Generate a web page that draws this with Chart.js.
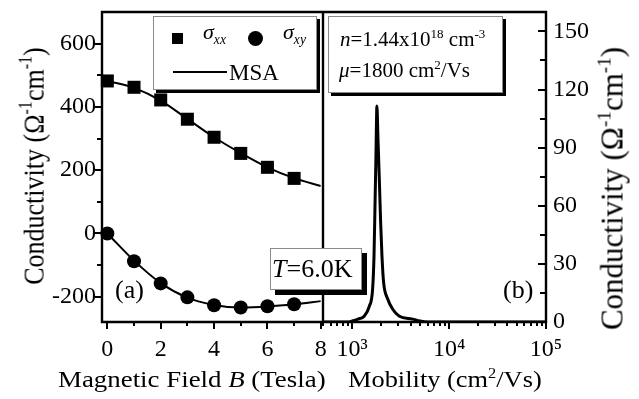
<!DOCTYPE html>
<html>
<head>
<meta charset="utf-8">
<script src="https://cdn.jsdelivr.net/npm/chart.js@4.4.0/dist/chart.umd.min.js"></script>
<style>
  html, body { margin: 0; padding: 0; background: #fff; }
  #wrap { position: relative; width: 639px; height: 399px; overflow: hidden;
          font-family: "Liberation Serif", "Times New Roman", serif; color: #000; }
  canvas { position: absolute; top: 0; }
  #cLeft { left: 0; }
  #cRight { left: 300px; }
  .txt { position: absolute; white-space: nowrap; line-height: 1; }
  .box { position: absolute; background: #fff; border: 1px solid #8a8a8a; box-sizing: border-box; }
  sup { font-size: 0.62em; line-height: 0; vertical-align: baseline; position: relative; top: -0.6em; }
  sub { font-size: 0.62em; line-height: 0; vertical-align: baseline; position: relative; top: 0.35em; }
  .mk { position: absolute; background: #000; }
</style>
</head>
<body>
<div id="wrap">
  <canvas id="cLeft" width="330" height="399" style="width:330px;height:399px"></canvas>
  <canvas id="cRight" width="339" height="399" style="width:339px;height:399px"></canvas>

  <!-- legend of panel (a) -->
  <div class="box" style="left:153px;top:16px;width:164px;height:74px;box-shadow:3px 3px 0 #000"></div>
  <div class="mk" style="left:172px;top:33px;width:11px;height:11px"></div>
  <div class="txt" style="left:203px;top:21px;font-size:22px"><i>&sigma;<sub>xx</sub></i></div>
  <div class="mk" style="left:248px;top:31px;width:15px;height:15px;border-radius:50%"></div>
  <div class="txt" style="left:283px;top:21px;font-size:22px"><i>&sigma;<sub>xy</sub></i></div>
  <div class="mk" style="left:173px;top:71px;width:54px;height:2px"></div>
  <div class="txt" style="left:229px;top:61px;font-size:23px">MSA</div>

  <!-- fit parameters of panel (b) -->
  <div class="box" style="left:328px;top:16px;width:175px;height:77px;box-shadow:3px 3px 0 #000"></div>
  <div class="txt" style="left:340px;top:29px;font-size:21px"><i>n</i>=1.44x10<sup>18</sup> cm<sup>-3</sup></div>
  <div class="txt" style="left:339px;top:60px;font-size:21px"><i>&mu;</i>=1800 cm<sup>2</sup>/Vs</div>

  <div class="box" style="left:270px;top:248px;width:92px;height:42px;box-shadow:5px 5px 0 #000"></div>
  <div class="txt" style="left:272px;top:256px;font-size:26px"><i>T</i>=6.0K</div>

  <div class="txt" style="left:115px;top:277px;font-size:26px">(a)</div>
  <div class="txt" style="left:503px;top:277px;font-size:26px">(b)</div>

  <!-- axis titles -->
  <div class="txt" style="left:58px;top:367px;font-size:24px;transform:scaleX(1.12);transform-origin:0 0">Magnetic Field <i>B</i> (Tesla)</div>
  <div class="txt" style="left:348px;top:367px;font-size:24px;transform:scaleX(1.1);transform-origin:0 0">Mobility (cm<sup>2</sup>/Vs)</div>
  <div class="txt" style="left:-116px;top:153px;width:300px;text-align:center;font-size:26px;transform:scaleX(1.15) rotate(-90deg);transform-origin:50% 50%">Conductivity (&Omega;<sup>-1</sup>cm<sup>-1</sup>)</div>
  <div class="txt" style="left:462px;top:173px;width:300px;text-align:center;font-size:31px;transform:rotate(-90deg);transform-origin:50% 50%">Conductivity (&Omega;<sup>-1</sup>cm<sup>-1</sup>)</div>
</div>

<script>
// --- panel (a): conductivity tensor vs magnetic field ---
const bField = [0, 1, 2, 3, 4, 5, 6, 7];
const sigmaXX = [482, 462, 422, 361, 304, 253, 209, 174];
const sigmaXY = [0, -88, -158, -202, -227, -234, -230, -224];
const msaField = [0, 1, 2, 3, 4, 5, 6, 7, 8];
const msaXX = [482, 460, 420, 362, 304, 254, 209, 175, 150];
const msaXY = [0, -86, -157, -203, -226, -234, -231, -224, -214];

const leftXTicks = [0, 1, 2, 3, 4, 5, 6, 7, 8];
const leftXLabels = [0, 2, 4, 6, 8];
const leftYTicks = [-200, -100, 0, 100, 200, 300, 400, 500, 600];
const leftYLabels = [-200, 0, 200, 400, 600];

// --- panel (b): mobility spectrum ---
const mobility = [500, 900, 1000, 1150, 1330, 1500, 1625, 1680, 1720, 1760, 1800,
                  1845, 1905, 1965, 2030, 2110, 2320, 2620, 3070, 4200, 5000, 6000, 100000];
const spectrum = [0, 0, 0.5, 1.5, 3, 8, 17, 34, 60, 86, 111.5,
                  95, 74, 52, 34, 20.5, 12, 6.6, 3, 1.5, 0.5, 0, 0];

const rightXTicks = [500, 600, 700, 800, 900,
                     1000, 2000, 3000, 4000, 5000, 6000, 7000, 8000, 9000,
                     10000, 20000, 30000, 40000, 50000, 60000, 70000, 80000, 90000, 100000];
const rightXLabels = { 1000: '10\u00B3', 10000: '10\u2074', 100000: '10\u2075' };
const rightYTicks = [0, 15, 30, 45, 60, 75, 90, 105, 120, 135, 150];
const rightYLabels = [0, 30, 60, 90, 120, 150];

const FONT = '"Liberation Serif", "Times New Roman", serif';

// frame + tick marks, positions come from the chart scales
const frameTicks = {
    id: 'frameTicks',
    afterDraw: function(chart, args, opts) {
        var ctx = chart.ctx, a = chart.chartArea;
        ctx.save();
        ctx.strokeStyle = '#000';
        ctx.lineWidth = 2;
        opts.axes.forEach(function(ax) {
            var s = chart.scales[ax.id];
            ax.ticks.forEach(function(v) {
                var len = ax.isMajor(v) ? ax.major : ax.minor;
                var p = Math.round(s.getPixelForValue(v));
                ctx.beginPath();
                if (s.isHorizontal()) {
                    ctx.moveTo(p, a.bottom);
                    ctx.lineTo(p, a.bottom + len);
                } else {
                    var x0 = ax.side === 'right' ? a.right : a.left;
                    ctx.moveTo(x0, p);
                    ctx.lineTo(x0 + len * ax.dir, p);
                }
                ctx.stroke();
            });
        });
        // box round the plot, edges listed in opts.edges
        ctx.lineWidth = 2.4;
        ctx.beginPath();
        opts.edges.forEach(function(e) {
            if (e === 'top') { ctx.moveTo(a.left - 1.2, a.top); ctx.lineTo(a.right + 1.2, a.top); }
            if (e === 'bottom') { ctx.moveTo(a.left - 1.2, a.bottom); ctx.lineTo(a.right + 1.2, a.bottom); }
            if (e === 'left') { ctx.moveTo(a.left, a.top); ctx.lineTo(a.left, a.bottom); }
            if (e === 'right') { ctx.moveTo(a.right, a.top); ctx.lineTo(a.right, a.bottom); }
        });
        ctx.stroke();
        ctx.restore();
    }
};

function fixedTicks(list) {
    return function(scale) { scale.ticks = list.map(function(v) { return { value: v }; }); };
}
function noPad(scale) {
    scale.paddingLeft = 0; scale.paddingRight = 0;
    scale.paddingTop = 0; scale.paddingBottom = 0;
}

function xy(xs, ys) {
    return xs.map(function(x, i) { return { x: x, y: ys[i] }; });
}

var tickFont = { family: FONT, size: 24 };
var noGrid = { display: false, drawTicks: false };

new Chart(document.getElementById('cLeft'), {
    type: 'scatter',
    data: {
        datasets: [
            { label: 'sxx', data: xy(bField, sigmaXX), pointStyle: 'rect', pointRadius: 9.2,
              backgroundColor: '#000', borderWidth: 0, showLine: false, clip: false },
            { label: 'sxy', data: xy(bField, sigmaXY), pointStyle: 'circle', pointRadius: 7,
              backgroundColor: '#000', borderWidth: 0, showLine: false, clip: false },
            { label: 'MSA xx', data: xy(msaField, msaXX), showLine: true, pointRadius: 0,
              borderColor: '#000', borderWidth: 2, cubicInterpolationMode: 'monotone' },
            { label: 'MSA xy', data: xy(msaField, msaXY), showLine: true, pointRadius: 0,
              borderColor: '#000', borderWidth: 2, cubicInterpolationMode: 'monotone' }
        ]
    },
    options: {
        responsive: false, animation: false, events: [],
        layout: { padding: { top: 12, left: 0, right: 7, bottom: 0 } },
        plugins: {
            legend: { display: false }, tooltip: { enabled: false },
            frameTicks: { edges: ['top', 'bottom', 'left'], axes: [
                { id: 'x', ticks: leftXTicks, major: 7, minor: 4,
                  isMajor: function(v) { return leftXLabels.indexOf(v) >= 0; } },
                { id: 'y', ticks: leftYTicks, major: 7, minor: 5, side: 'left', dir: -1,
                  isMajor: function(v) { return leftYLabels.indexOf(v) >= 0; } }
            ] }
        },
        scales: {
            x: {
                type: 'linear', min: -0.2, max: 8,
                grid: noGrid, border: { display: false },
                afterBuildTicks: fixedTicks(leftXTicks),
                afterFit: function(s) { s.height = 77; noPad(s); },
                ticks: { autoSkip: false, maxRotation: 0, padding: 13, color: '#000', font: tickFont,
                         callback: function(v) { return leftXLabels.indexOf(v) >= 0 ? String(v) : ''; } }
            },
            y: {
                type: 'linear', min: -280, max: 700,
                grid: noGrid, border: { display: false },
                afterBuildTicks: fixedTicks(leftYTicks),
                afterFit: function(s) { s.width = 102; noPad(s); },
                ticks: { autoSkip: false, padding: 6, color: '#000', font: tickFont,
                         callback: function(v) { return leftYLabels.indexOf(v) >= 0 ? String(v) : ''; } }
            }
        }
    },
    plugins: [frameTicks]
});

new Chart(document.getElementById('cRight'), {
    type: 'line',
    data: {
        datasets: [
            { label: 'spectrum', data: xy(mobility, spectrum), pointRadius: 0,
              borderColor: '#000', borderWidth: 3, cubicInterpolationMode: 'monotone', fill: false }
        ]
    },
    options: {
        responsive: false, animation: false, events: [],
        layout: { padding: { top: 12, left: 23, right: 0, bottom: 0 } },
        plugins: {
            legend: { display: false }, tooltip: { enabled: false },
            frameTicks: { edges: ['top', 'bottom', 'left', 'right'], axes: [
                { id: 'x', ticks: rightXTicks, major: 7, minor: 4,
                  isMajor: function(v) { return rightXLabels[v] !== undefined; } },
                { id: 'y', ticks: rightYTicks, major: 8, minor: 6, side: 'right', dir: -1,
                  isMajor: function(v) { return rightYLabels.indexOf(v) >= 0; } }
            ] }
        },
        scales: {
            x: {
                type: 'logarithmic', min: 500, max: 100000,
                grid: noGrid, border: { display: false },
                afterBuildTicks: fixedTicks(rightXTicks),
                afterFit: function(s) { s.height = 77; noPad(s); },
                ticks: { autoSkip: false, maxRotation: 0, padding: 13, color: '#000', font: tickFont,
                         callback: function(v) { return rightXLabels[v] || ''; } }
            },
            y: {
                type: 'linear', position: 'right', min: 0, max: 160,
                grid: noGrid, border: { display: false },
                afterBuildTicks: fixedTicks(rightYTicks),
                afterFit: function(s) { s.width = 93; noPad(s); },
                ticks: { autoSkip: false, padding: 7, color: '#000', font: tickFont,
                         callback: function(v) { return rightYLabels.indexOf(v) >= 0 ? String(v) : ''; } }
            }
        }
    },
    plugins: [frameTicks]
});
</script>
</body>
</html>
